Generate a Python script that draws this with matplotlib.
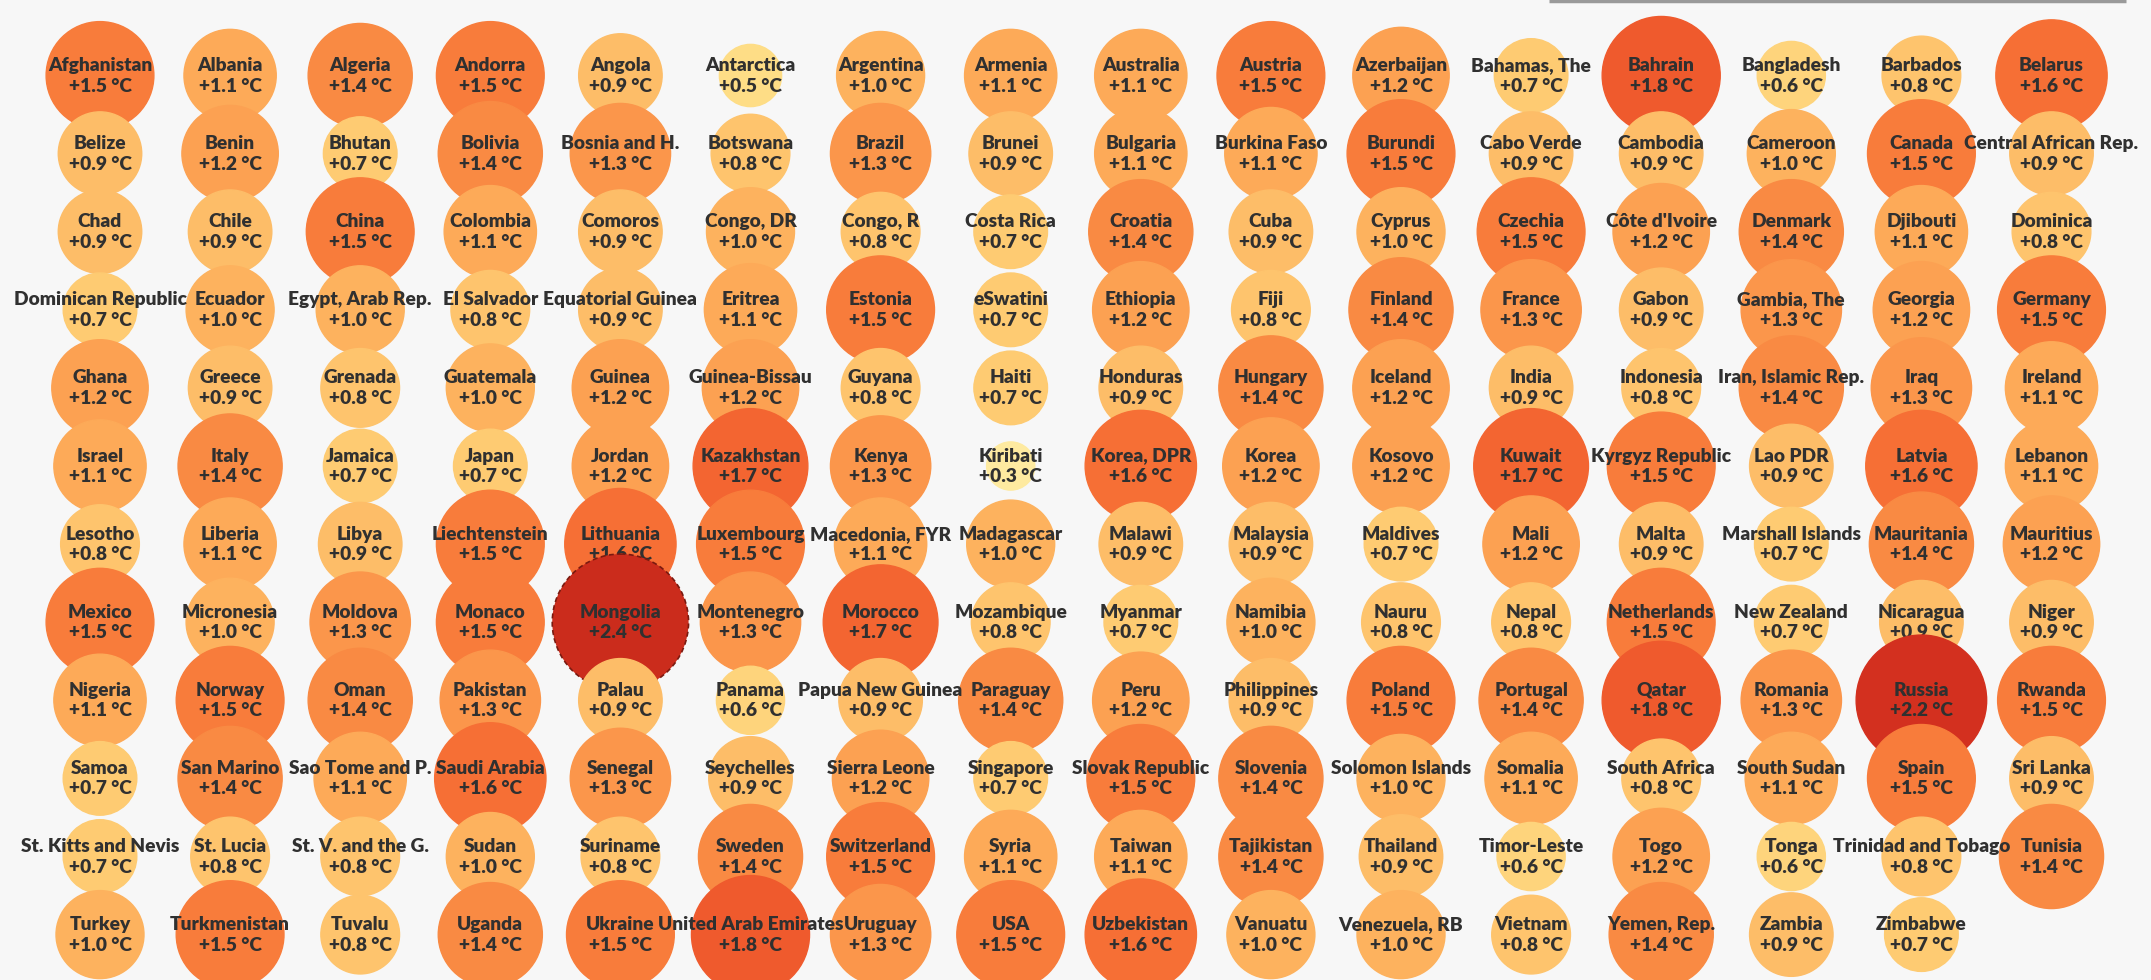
import numpy as np
from matplotlib import pyplot as plt
from matplotlib.patches import Circle
from matplotlib.colors import LinearSegmentedColormap

# countries in grid order (16 per row) and their warming in degC
countries = [
    'Afghanistan', 'Albania', 'Algeria', 'Andorra', 'Angola', 'Antarctica', 'Argentina', 'Armenia',
    'Australia', 'Austria', 'Azerbaijan', 'Bahamas, The', 'Bahrain', 'Bangladesh', 'Barbados', 'Belarus',
    'Belize', 'Benin', 'Bhutan', 'Bolivia', 'Bosnia and H.', 'Botswana', 'Brazil', 'Brunei',
    'Bulgaria', 'Burkina Faso', 'Burundi', 'Cabo Verde', 'Cambodia', 'Cameroon', 'Canada', 'Central African Rep.',
    'Chad', 'Chile', 'China', 'Colombia', 'Comoros', 'Congo, DR', 'Congo, R', 'Costa Rica',
    'Croatia', 'Cuba', 'Cyprus', 'Czechia', "Côte d'Ivoire", 'Denmark', 'Djibouti', 'Dominica',
    'Dominican Republic', 'Ecuador', 'Egypt, Arab Rep.', 'El Salvador', 'Equatorial Guinea', 'Eritrea', 'Estonia', 'eSwatini',
    'Ethiopia', 'Fiji', 'Finland', 'France', 'Gabon', 'Gambia, The', 'Georgia', 'Germany',
    'Ghana', 'Greece', 'Grenada', 'Guatemala', 'Guinea', 'Guinea-Bissau', 'Guyana', 'Haiti',
    'Honduras', 'Hungary', 'Iceland', 'India', 'Indonesia', 'Iran, Islamic Rep.', 'Iraq', 'Ireland',
    'Israel', 'Italy', 'Jamaica', 'Japan', 'Jordan', 'Kazakhstan', 'Kenya', 'Kiribati',
    'Korea, DPR', 'Korea', 'Kosovo', 'Kuwait', 'Kyrgyz Republic', 'Lao PDR', 'Latvia', 'Lebanon',
    'Lesotho', 'Liberia', 'Libya', 'Liechtenstein', 'Lithuania', 'Luxembourg', 'Macedonia, FYR', 'Madagascar',
    'Malawi', 'Malaysia', 'Maldives', 'Mali', 'Malta', 'Marshall Islands', 'Mauritania', 'Mauritius',
    'Mexico', 'Micronesia', 'Moldova', 'Monaco', 'Mongolia', 'Montenegro', 'Morocco', 'Mozambique',
    'Myanmar', 'Namibia', 'Nauru', 'Nepal', 'Netherlands', 'New Zealand', 'Nicaragua', 'Niger',
    'Nigeria', 'Norway', 'Oman', 'Pakistan', 'Palau', 'Panama', 'Papua New Guinea', 'Paraguay',
    'Peru', 'Philippines', 'Poland', 'Portugal', 'Qatar', 'Romania', 'Russia', 'Rwanda',
    'Samoa', 'San Marino', 'Sao Tome and P.', 'Saudi Arabia', 'Senegal', 'Seychelles', 'Sierra Leone', 'Singapore',
    'Slovak Republic', 'Slovenia', 'Solomon Islands', 'Somalia', 'South Africa', 'South Sudan', 'Spain', 'Sri Lanka',
    'St. Kitts and Nevis', 'St. Lucia', 'St. V. and the G.', 'Sudan', 'Suriname', 'Sweden', 'Switzerland', 'Syria',
    'Taiwan', 'Tajikistan', 'Thailand', 'Timor-Leste', 'Togo', 'Tonga', 'Trinidad and Tobago', 'Tunisia',
    'Turkey', 'Turkmenistan', 'Tuvalu', 'Uganda', 'Ukraine', 'United Arab Emirates', 'Uruguay', 'USA',
    'Uzbekistan', 'Vanuatu', 'Venezuela, RB', 'Vietnam', 'Yemen, Rep.', 'Zambia', 'Zimbabwe',
]
warming = [
    1.5, 1.1, 1.4, 1.5, 0.9, 0.5, 1.0, 1.1, 1.1, 1.5, 1.2, 0.7, 1.8, 0.6, 0.8, 1.6,
    0.9, 1.2, 0.7, 1.4, 1.3, 0.8, 1.3, 0.9, 1.1, 1.1, 1.5, 0.9, 0.9, 1.0, 1.5, 0.9,
    0.9, 0.9, 1.5, 1.1, 0.9, 1.0, 0.8, 0.7, 1.4, 0.9, 1.0, 1.5, 1.2, 1.4, 1.1, 0.8,
    0.7, 1.0, 1.0, 0.8, 0.9, 1.1, 1.5, 0.7, 1.2, 0.8, 1.4, 1.3, 0.9, 1.3, 1.2, 1.5,
    1.2, 0.9, 0.8, 1.0, 1.2, 1.2, 0.8, 0.7, 0.9, 1.4, 1.2, 0.9, 0.8, 1.4, 1.3, 1.1,
    1.1, 1.4, 0.7, 0.7, 1.2, 1.7, 1.3, 0.3, 1.6, 1.2, 1.2, 1.7, 1.5, 0.9, 1.6, 1.1,
    0.8, 1.1, 0.9, 1.5, 1.6, 1.5, 1.1, 1.0, 0.9, 0.9, 0.7, 1.2, 0.9, 0.7, 1.4, 1.2,
    1.5, 1.0, 1.3, 1.5, 2.4, 1.3, 1.7, 0.8, 0.7, 1.0, 0.8, 0.8, 1.5, 0.7, 0.9, 0.9,
    1.1, 1.5, 1.4, 1.3, 0.9, 0.6, 0.9, 1.4, 1.2, 0.9, 1.5, 1.4, 1.8, 1.3, 2.2, 1.5,
    0.7, 1.4, 1.1, 1.6, 1.3, 0.9, 1.2, 0.7, 1.5, 1.4, 1.0, 1.1, 0.8, 1.1, 1.5, 0.9,
    0.7, 0.8, 0.8, 1.0, 0.8, 1.4, 1.5, 1.1, 1.1, 1.4, 0.9, 0.6, 1.2, 0.6, 0.8, 1.4,
    1.0, 1.5, 0.8, 1.4, 1.5, 1.8, 1.3, 1.5, 1.6, 1.0, 1.0, 0.8, 1.4, 0.9, 0.7,
]
highlighted = 'Mongolia'

# colour scale
scale_vals = [0.3, 0.5, 0.7, 0.9, 1.0, 1.2, 1.4, 1.5, 1.6, 1.8, 2.2, 2.4]
scale_cols = ['#feeaa0', '#fedd86', '#fecb72', '#fdbd68', '#fdb25e', '#fca152',
              '#f98a43', '#f87c3b', '#f66f35', '#ef5a2d', '#d3301f', '#cb2c1c']
vmin, vmax = scale_vals[0], scale_vals[-1]
cmap = LinearSegmentedColormap.from_list(
    'warm', [((v - vmin) / (vmax - vmin), c) for v, c in zip(scale_vals, scale_cols)])

ncols = 16
x0, dx = 100, 130.1
y0, dy = 75.5, 78.1
k = 44  # radius = k * sqrt(value), area proportional to value

fig = plt.figure(figsize=(21.51, 9.80), dpi=100, facecolor='#f7f7f7')
ax = fig.add_axes([0, 0, 1, 1])
ax.set_facecolor('#f7f7f7')
ax.set_xlim(0, 2151)
ax.set_ylim(980, 0)
ax.set_aspect('equal')
ax.axis('off')

# bar at the top right (bottom edge of a control above the chart)
ax.plot([1549, 2126], [1, 1], color='#9a9a9a', lw=2.5, solid_capstyle='butt')

font = dict(family=['Lato', 'DejaVu Sans'], fontweight='heavy', color='#303030',
            ha='center', va='center', fontsize=13.8)

# each row is one layer: its circles, then its labels; later rows sit on top
for i, (name, v) in enumerate(zip(countries, warming)):
    row = i // ncols
    cx = x0 + (i % ncols) * dx
    cy = y0 + row * dy
    col = cmap((v - vmin) / (vmax - vmin))
    zc = row * 100 + 1 + (i % ncols) * 0.01
    zt = row * 100 + 50
    if name == highlighted:
        circ = Circle((cx, cy), k * np.sqrt(v), facecolor=col, edgecolor='#7a1a10',
                      lw=1.2, ls=(0, (3, 2)), zorder=zc)
    else:
        circ = Circle((cx, cy), k * np.sqrt(v), facecolor=col, edgecolor=col,
                      lw=1, zorder=zc)
    ax.add_patch(circ)
    ax.text(cx, cy - 10, name, zorder=zt, **font)
    ax.text(cx, cy + 10.5, '+%.1f °C' % v, zorder=zt, **font)

fig.savefig('out.png', dpi=100, facecolor=fig.get_facecolor())
